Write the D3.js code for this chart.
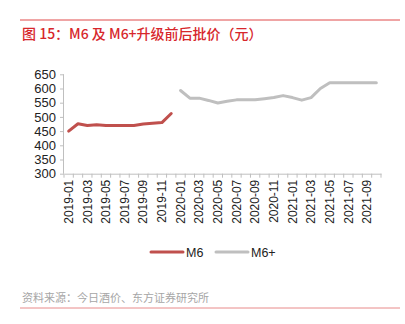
<!DOCTYPE html>
<html><head><meta charset="utf-8">
<script src="https://cdn.jsdelivr.net/npm/d3@7/dist/d3.min.js"></script>
<style>body{margin:0;background:#fff;}svg{display:block;font-family:"Liberation Sans",Arial,sans-serif;}</style>
</head><body><svg id="c" width="405" height="324"></svg>
<script>
const months = ["2019-01","2019-02","2019-03","2019-04","2019-05","2019-06","2019-07","2019-08","2019-09","2019-10","2019-11","2019-12",
"2020-01","2020-02","2020-03","2020-04","2020-05","2020-06","2020-07","2020-08","2020-09","2020-10","2020-11","2020-12",
"2021-01","2021-02","2021-03","2021-04","2021-05","2021-06","2021-07","2021-08","2021-09","2021-10"];
const m6Months = months.slice(0,12);
const m6Values = [450,476,470,472,470,470,470,470,475,478,480,512];
const m6pMonths = months.slice(12);
const m6pValues = [593,566,566,558,549,555,560,560,560,564,568,575,568,559,568,600,620,620,620,620,620,620];
const yTicks = [300,350,400,450,500,550,600,650];
const titleText = "图 15：M6 及 M6+升级前后批价（元）";
const sourceText = "资料来源：今日酒价、东方证券研究所";
const seriesNames = ["M6","M6+"];

const svg = d3.select("#c");
const x = d3.scaleBand().domain(months).range([64,381]);
const y = d3.scaleLinear().domain([300,650]).range([173.7,74.3]);

// top/bottom red rules
svg.append("line").attr("x1",20).attr("x2",400).attr("y1",20).attr("y2",20).attr("stroke","#e04a4a").attr("stroke-width",1);
svg.append("text").attr("x",22).attr("y",39).attr("fill","#d7262b").attr("font-size",14)
  .attr("font-family","'Noto Sans CJK SC',sans-serif").attr("font-weight","500").text(titleText);

// y axis
const ya = svg.append("g").attr("transform","translate(64,0)")
  .call(d3.axisLeft(y).tickValues(yTicks).tickSize(4).tickPadding(4));
ya.select(".domain").attr("stroke","#bfbfbf").attr("d","M-0.5,173.7V74.3");
ya.selectAll(".tick line").attr("stroke","#bfbfbf");
ya.selectAll(".tick text").attr("font-size",13).attr("fill","#222").attr("font-family","'Liberation Sans',Arial,sans-serif");

// x axis
const xa = svg.append("g").attr("transform","translate(0,173.7)")
  .call(d3.axisBottom(x).tickSize(0).tickFormat((d,i)=> i%2===0 ? d : ""));
xa.select(".domain").attr("stroke","#bfbfbf");
xa.selectAll(".tick line").remove();
// band boundary ticks
svg.append("g").selectAll("line").data(months.concat(["end"])).join("line")
  .attr("x1",(d,i)=> i<months.length ? x(d) : x.range()[1])
  .attr("x2",(d,i)=> i<months.length ? x(d) : x.range()[1])
  .attr("y1",173.7).attr("y2",177.7).attr("stroke","#bfbfbf");
xa.selectAll(".tick text").attr("font-size",12).attr("fill","#222")
  .attr("font-family","'Liberation Sans',Arial,sans-serif")
  .attr("transform","rotate(-90)").attr("text-anchor","end").attr("dy","0.35em").attr("x",-6).attr("y",0);

const cx = d => x(d)+x.bandwidth()/2;
const line = d3.line().x(d=>cx(d[0])).y(d=>y(d[1]));
svg.append("path").datum(m6Months.map((m,i)=>[m,m6Values[i]])).attr("d",line)
  .attr("fill","none").attr("stroke","#c0504d").attr("stroke-width",3).attr("stroke-linejoin","round").attr("stroke-linecap","round");
svg.append("path").datum(m6pMonths.map((m,i)=>[m,m6pValues[i]])).attr("d",line)
  .attr("fill","none").attr("stroke","#bfbfbf").attr("stroke-width",3).attr("stroke-linejoin","round").attr("stroke-linecap","round");

// legend
const lg = svg.append("g");
const legendItems = [{n:seriesNames[0],c:"#c0504d",x:150},{n:seriesNames[1],c:"#bfbfbf",x:215}];
legendItems.forEach(it=>{
  lg.append("line").attr("x1",it.x+1).attr("x2",it.x+33).attr("y1",252).attr("y2",252).attr("stroke",it.c).attr("stroke-width",3).attr("stroke-linecap","round");
  lg.append("text").attr("x",it.x+36).attr("y",256.5).attr("font-size",12.5).attr("fill","#222").text(it.n);
});

svg.append("text").attr("x",22).attr("y",302).attr("fill","#a6a6a6").attr("font-size",11)
  .attr("font-family","'Noto Sans CJK SC',sans-serif").text(sourceText);
svg.append("line").attr("x1",20).attr("x2",400).attr("y1",308).attr("y2",308).attr("stroke","#e88a8a").attr("stroke-width",1);
</script></body></html>
